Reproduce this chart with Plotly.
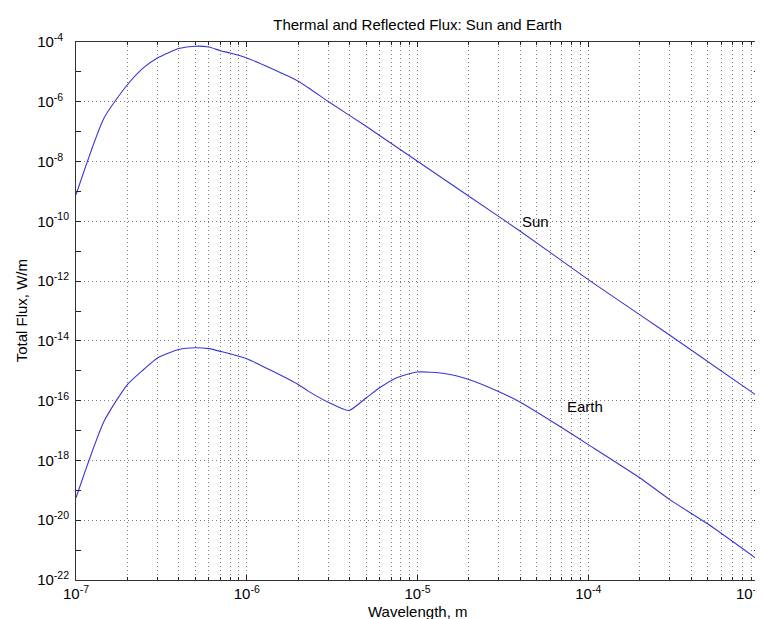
import numpy as np
import plotly.graph_objects as go

# ---- data (log10 of flux) ----
sun_wavelength = [1.0e-7, 1.46e-7, 2.0e-7, 2.5e-7, 3.0e-7, 4.0e-7, 5.0e-7, 6.0e-7, 7.0e-7, 8.0e-7,
                  1.0e-6, 2.0e-6, 3.0e-6, 5.0e-6, 1.0e-5, 2.0e-5, 4.0e-5, 1.0e-4, 2.0e-4, 3.6e-4, 1.0e-3]
sun_log_flux = [-9.11, -6.54, -5.43, -4.85, -4.535, -4.22, -4.14, -4.17, -4.29, -4.37,
                -4.535, -5.31, -5.99, -6.82, -7.99, -9.16, -10.33, -11.95, -13.12, -14.12, -15.88]

earth_wavelength = [1.0e-7, 1.46e-7, 2.0e-7, 2.5e-7, 3.0e-7, 4.0e-7, 5.0e-7, 6.0e-7, 7.0e-7,
                    1.0e-6, 2.0e-6, 2.29e-6, 3.0e-6, 3.95e-6, 5.0e-6, 6.0e-6, 7.5e-6, 1.0e-5,
                    1.44e-5, 2.0e-5, 3.0e-5, 4.0e-5, 6.65e-5, 1.0e-4, 2.0e-4, 3.0e-4, 5.0e-4, 1.0e-3]
earth_log_flux = [-19.25, -16.69, -15.46, -14.95, -14.57, -14.29, -14.23, -14.26, -14.35,
                  -14.60, -15.46, -15.68, -16.05, -16.33, -15.91, -15.57, -15.24, -15.04,
                  -15.09, -15.29, -15.70, -16.05, -16.82, -17.47, -18.58, -19.31, -20.12, -21.35]

x_tick_exponents = [-7, -6, -5, -4, -3]
y_tick_exponents = [-22, -20, -18, -16, -14, -12, -10, -8, -6, -4]
y_minor_exponents = [-21, -19, -17, -15, -13, -11, -9, -7, -5]

title_text = "Thermal and Reflected Flux: Sun and Earth"
x_label = "Wavelength, m"
y_label = "Total Flux, W/m"

# ---- figure ----
FONT = "Liberation Sans, Arial, Helvetica, sans-serif"
LINE = "rgb(55,55,210)"
GRID = "rgba(0,0,0,0.5)"
DOT = "1px,3px"

sun_flux = [10 ** v for v in sun_log_flux]
earth_flux = [10 ** v for v in earth_log_flux]

fig = go.Figure()
fig.add_trace(go.Scatter(x=sun_wavelength, y=sun_flux, mode="lines",
                         line=dict(color=LINE, width=1.1, shape="spline", smoothing=0.6),
                         showlegend=False))
fig.add_trace(go.Scatter(x=earth_wavelength, y=earth_flux, mode="lines",
                         line=dict(color=LINE, width=1.1, shape="spline", smoothing=0.6),
                         showlegend=False))

x_major = [10.0 ** e for e in x_tick_exponents]
x_minor = [m * 10.0 ** e for e in x_tick_exponents[:-1] for m in range(2, 10)]
y_major = [10.0 ** e for e in y_tick_exponents]
y_minor = [10.0 ** e for e in y_minor_exponents]

# the last x label sits at the right edge; it is drawn as an annotation pulled inside
x_ticktext = [f"10<sup>{e}</sup>" for e in x_tick_exponents[:-1]] + [""]
last_x_label = f"10<sup>{x_tick_exponents[-1]}</sup>"
# y labels: keep the "10" bases aligned (exponents padded to equal width)
y_ticktext = [f"10<sup>{e}{'' if e <= -10 else chr(0x2007)}</sup>" for e in y_tick_exponents]

fig.update_xaxes(
    type="log", range=[-7, -3], automargin=False,
    tickvals=x_major, ticktext=x_ticktext,
    ticks="inside", ticklen=5, tickcolor="#222", tickwidth=1,
    showline=True, linecolor="#333", linewidth=1, mirror="ticks",
    showgrid=True, gridcolor=GRID, griddash=DOT, gridwidth=1,
    minor=dict(tickvals=x_minor, ticks="inside", ticklen=3, tickcolor="#222",
               showgrid=True, gridcolor=GRID, griddash=DOT, gridwidth=1),
    tickfont=dict(family=FONT, size=15, color="#000"),
    ticklabelstandoff=0, zeroline=False,
)
fig.update_yaxes(
    type="log", range=[-22, -4], automargin=False,
    tickvals=y_major, ticktext=y_ticktext,
    ticks="inside", ticklen=5, tickcolor="#222", tickwidth=1,
    showline=True, linecolor="#333", linewidth=1, mirror="ticks",
    showgrid=True, gridcolor=GRID, griddash=DOT, gridwidth=1,
    minor=dict(tickvals=y_minor, ticks="inside", ticklen=5, tickcolor="#222", showgrid=False),
    tickfont=dict(family=FONT, size=15, color="#000"),
    ticklabelstandoff=3, ticklabeloverflow="allow", zeroline=False,
)

fig.update_layout(
    width=763, height=619,
    margin=dict(l=68, r=12, t=34, b=47),
    paper_bgcolor="white", plot_bgcolor="white",
    font=dict(family=FONT, size=15, color="#000"),
    title=dict(text=title_text, x=0.5, xref="paper", xanchor="center",
               y=1 - 17 / 619, yref="container", yanchor="middle",
               font=dict(family=FONT, size=15, color="#000")),
    annotations=[
        dict(text=last_x_label, xref="paper", yref="paper", x=1.0, y=0.0,
             xanchor="right", yanchor="top", xshift=5, yshift=-1, showarrow=False,
             font=dict(family=FONT, size=15, color="#000")),
        dict(text=x_label, xref="paper", yref="paper", x=0.5, y=-0.058,
             xanchor="center", yanchor="middle", showarrow=False,
             font=dict(family=FONT, size=15, color="#000")),
        dict(text=y_label, xref="paper", yref="paper", x=-0.08, y=0.5,
             xanchor="center", yanchor="middle", textangle=-90, showarrow=False,
             font=dict(family=FONT, size=15, color="#000")),
        dict(text="Sun", x=np.log10(4.0e-5), y=-10.0, xref="x", yref="y",
             xanchor="left", yanchor="middle", showarrow=False,
             font=dict(family=FONT, size=15, color="#000")),
        dict(text="Earth", x=np.log10(7.3e-5), y=-16.2, xref="x", yref="y",
             xanchor="left", yanchor="middle", showarrow=False,
             font=dict(family=FONT, size=15, color="#000")),
    ],
)

fig.write_html("out.html")
